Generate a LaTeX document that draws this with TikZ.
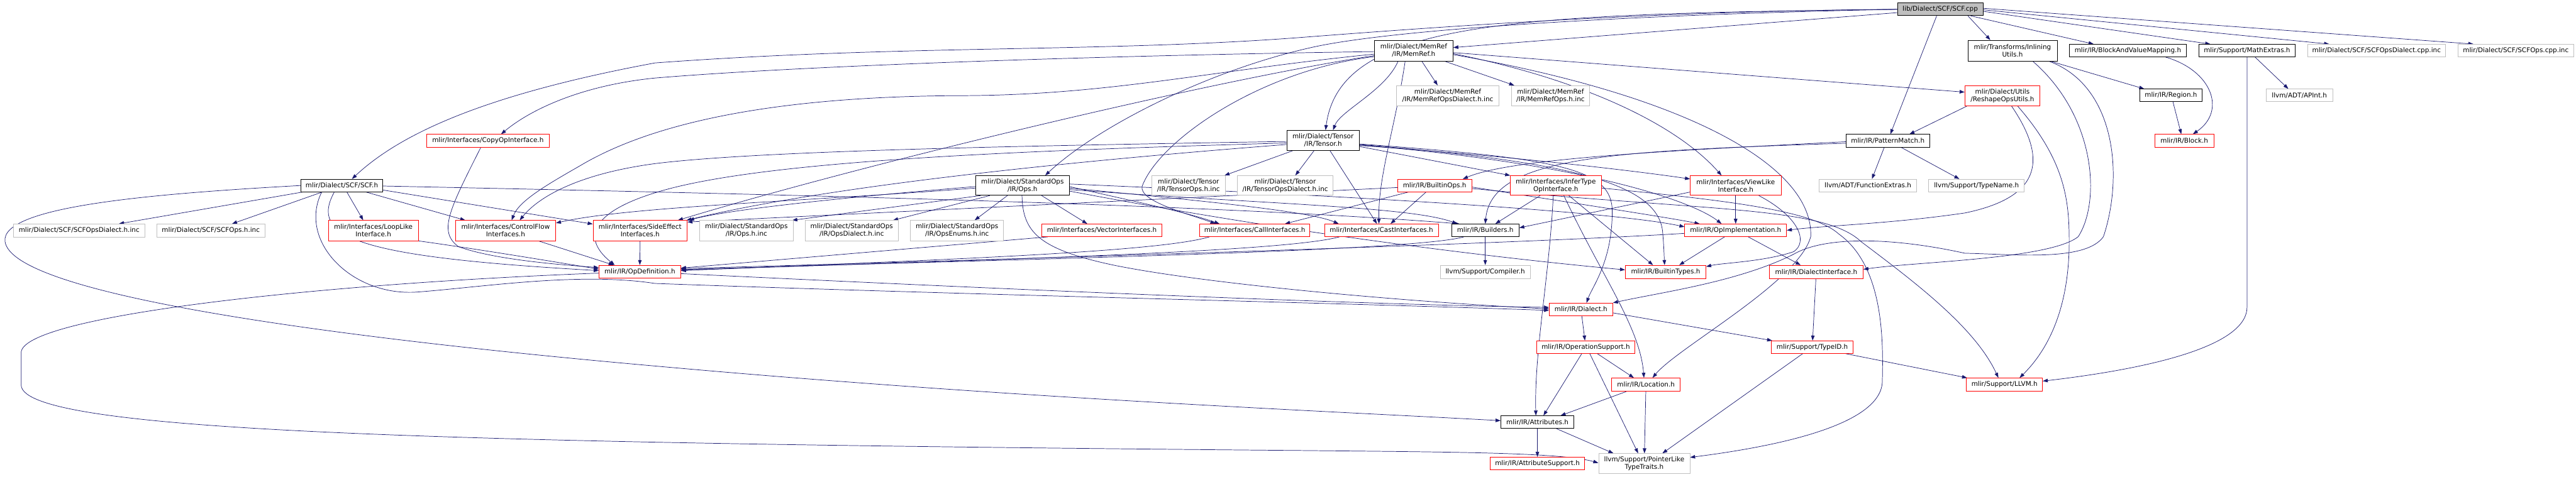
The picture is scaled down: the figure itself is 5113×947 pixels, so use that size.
\documentclass[tikz,border=0pt]{standalone}
\usepackage{fontspec}
\setmainfont{DejaVu Sans}
\usetikzlibrary{arrows.meta,calc}
\definecolor{edgec}{HTML}{191970}
\definecolor{grayb}{HTML}{BFBFBF}
\pgfdeclarelayer{edges}
\pgfsetlayers{edges,main}
\begin{document}
\begin{tikzpicture}[x=1pt,y=-1pt,
  nb/.style={draw, line width=1pt, fill=white, inner sep=0pt, align=center, font=\fontsize{13}{15}\selectfont},
  rootb/.style={nb, fill=grayb, draw=black},
  blk/.style={nb, draw=black},
  redb/.style={nb, draw=red},
  gryb/.style={nb, draw=grayb},
  dep/.style={draw=edgec, line width=0.9pt, -{Triangle[length=10pt,width=7pt]}},
]
\useasboundingbox (0,0) rectangle (5113,947);
% nodes
\node[rootb, minimum width=170pt, minimum height=25pt] (cpp) at (3851,18.5) {lib/Dialect/SCF/SCF.cpp};
\node[blk, minimum width=156pt, minimum height=41pt] (memref) at (2806,100.5) {mlir/Dialect/MemRef\\/IR/MemRef.h};
\node[blk, minimum width=177pt, minimum height=41pt] (inl) at (3994.5,100.5) {mlir/Transforms/Inlining\\Utils.h};
\node[blk, minimum width=233pt, minimum height=25pt] (bvm) at (4223.5,100.5) {mlir/IR/BlockAndValueMapping.h};
\node[blk, minimum width=190pt, minimum height=25pt] (mathx) at (4460,100.5) {mlir/Support/MathExtras.h};
\node[gryb, minimum width=274pt, minimum height=25pt] (dcppinc) at (4717,100.5) {mlir/Dialect/SCF/SCFOpsDialect.cpp.inc};
\node[gryb, minimum width=229pt, minimum height=25pt] (ocppinc) at (4993.5,100.5) {mlir/Dialect/SCF/SCFOps.cpp.inc};
\node[gryb, minimum width=203pt, minimum height=40pt] (mrdinc) at (2873.5,190) {mlir/Dialect/MemRef\\/IR/MemRefOpsDialect.h.inc};
\node[gryb, minimum width=155pt, minimum height=40pt] (mrinc) at (3077.5,190) {mlir/Dialect/MemRef\\/IR/MemRefOps.h.inc};
\node[redb, minimum width=149pt, minimum height=40pt] (reshape) at (3974.5,190) {mlir/Dialect/Utils\\/ReshapeOpsUtils.h};
\node[blk, minimum width=124pt, minimum height=25pt] (region) at (4309,189.5) {mlir/IR/Region.h};
\node[gryb, minimum width=132pt, minimum height=25pt] (apint) at (4564,189.5) {llvm/ADT/APInt.h};
\node[redb, minimum width=243pt, minimum height=25pt] (copy) at (968.5,279.5) {mlir/Interfaces/CopyOpInterface.h};
\node[blk, minimum width=144pt, minimum height=40pt] (tensor) at (2626,279) {mlir/Dialect/Tensor\\/IR/Tensor.h};
\node[blk, minimum width=166pt, minimum height=25pt] (pattern) at (3747,279.5) {mlir/IR/PatternMatch.h};
\node[redb, minimum width=117pt, minimum height=25pt] (block) at (4335.5,279.5) {mlir/IR/Block.h};
\node[blk, minimum width=163pt, minimum height=25pt] (scfh) at (678.5,368.5) {mlir/Dialect/SCF/SCF.h};
\node[blk, minimum width=185pt, minimum height=39pt] (stdops) at (2029.5,368.5) {mlir/Dialect/StandardOps\\/IR/Ops.h};
\node[gryb, minimum width=146pt, minimum height=39pt] (tinc) at (2359,368.5) {mlir/Dialect/Tensor\\/IR/TensorOps.h.inc};
\node[gryb, minimum width=190pt, minimum height=39pt] (tdinc) at (2551,368.5) {mlir/Dialect/Tensor\\/IR/TensorOpsDialect.h.inc};
\node[redb, minimum width=147pt, minimum height=25pt] (bops) at (2847.5,368.5) {mlir/IR/BuiltinOps.h};
\node[redb, minimum width=180pt, minimum height=39pt] (infer) at (3088,368.5) {mlir/Interfaces/InferType\\OpInterface.h};
\node[redb, minimum width=180pt, minimum height=39pt] (view) at (3445,368.5) {mlir/Interfaces/ViewLike\\Interface.h};
\node[gryb, minimum width=193pt, minimum height=25pt] (fextras) at (3707.5,368.5) {llvm/ADT/FunctionExtras.h};
\node[gryb, minimum width=190pt, minimum height=25pt] (tname) at (3923,368.5) {llvm/Support/TypeName.h};
\node[gryb, minimum width=260pt, minimum height=26pt] (scfdinc) at (157,458) {mlir/Dialect/SCF/SCFOpsDialect.h.inc};
\node[gryb, minimum width=215pt, minimum height=26pt] (scfinc) at (418.5,458) {mlir/Dialect/SCF/SCFOps.h.inc};
\node[redb, minimum width=178pt, minimum height=40pt] (loop) at (741,458) {mlir/Interfaces/LoopLike\\Interface.h};
\node[redb, minimum width=199pt, minimum height=40pt] (cf) at (1003.5,458) {mlir/Interfaces/ControlFlow\\Interfaces.h};
\node[redb, minimum width=187pt, minimum height=40pt] (se) at (1270.5,458) {mlir/Interfaces/SideEffect\\Interfaces.h};
\node[gryb, minimum width=185pt, minimum height=40pt] (sinc) at (1481.5,458) {mlir/Dialect/StandardOps\\/IR/Ops.h.inc};
\node[gryb, minimum width=185pt, minimum height=40pt] (sdinc) at (1690.5,458) {mlir/Dialect/StandardOps\\/IR/OpsDialect.h.inc};
\node[gryb, minimum width=185pt, minimum height=40pt] (seinc) at (1899.5,458) {mlir/Dialect/StandardOps\\/IR/OpsEnums.h.inc};
\node[redb, minimum width=238pt, minimum height=25pt] (vec) at (2187,457.5) {mlir/Interfaces/VectorInterfaces.h};
\node[redb, minimum width=219pt, minimum height=25pt] (call) at (2490.5,457.5) {mlir/Interfaces/CallInterfaces.h};
\node[redb, minimum width=226pt, minimum height=25pt] (cast) at (2742,457.5) {mlir/Interfaces/CastInterfaces.h};
\node[blk, minimum width=134pt, minimum height=25pt] (builders) at (2948,457.5) {mlir/IR/Builders.h};
\node[redb, minimum width=202pt, minimum height=25pt] (opimpl) at (3445,457.5) {mlir/IR/OpImplementation.h};
\node[redb, minimum width=162pt, minimum height=25pt] (opdef) at (1270,539.5) {mlir/IR/OpDefinition.h};
\node[gryb, minimum width=178pt, minimum height=26pt] (compiler) at (2948,540) {llvm/Support/Compiler.h};
\node[redb, minimum width=160pt, minimum height=26pt] (btypes) at (3306,540) {mlir/IR/BuiltinTypes.h};
\node[redb, minimum width=186pt, minimum height=26pt] (dint) at (3605,540) {mlir/IR/DialectInterface.h};
\node[redb, minimum width=126pt, minimum height=25pt] (dialect) at (3138,614.5) {mlir/IR/Dialect.h};
\node[redb, minimum width=195pt, minimum height=25pt] (opsup) at (3147.5,689.5) {mlir/IR/OperationSupport.h};
\node[redb, minimum width=162pt, minimum height=25pt] (typeid) at (3597,689.5) {mlir/Support/TypeID.h};
\node[redb, minimum width=136pt, minimum height=26pt] (loc) at (3267,764) {mlir/IR/Location.h};
\node[redb, minimum width=151pt, minimum height=26pt] (llvmh) at (3978.5,764) {mlir/Support/LLVM.h};
\node[blk, minimum width=145pt, minimum height=25pt] (attrs) at (3051.5,838.5) {mlir/IR/Attributes.h};
\node[redb, minimum width=187pt, minimum height=25pt] (attrsup) at (3051.5,920.5) {mlir/IR/AttributeSupport.h};
\node[gryb, minimum width=181pt, minimum height=39pt] (ptr) at (3263.5,920.5) {llvm/Support/PointerLike\\TypeTraits.h};

\begin{pgfonlayer}{edges}
% edges from SCF.cpp
\draw[dep] (cpp) -- (memref);
\draw[dep] (cpp.west) .. controls (3000,28) and (2660,40) .. ($(tensor.north)+(5,0)$);
\draw[dep] (cpp.west) .. controls (3300,22) and (2900,50) .. (2600,73) .. controls (2200,105) and (1800,88) .. (1300,125) .. controls (950,190) and (790,270) .. ($(scfh.north)+(20,0)$);
\draw[dep] (cpp.west) .. controls (3200,30) and (2750,60) .. (2600,95) .. controls (2400,140) and (2180,250) .. ($(stdops.north)+(45,0)$);
\draw[dep] ($(cpp.south)+(-7,0)$) -- ($(pattern.north)+(5,0)$);
\draw[dep] ($(cpp.south)+(55,0)$) -- ($(inl.north)+(-44,0)$);
\draw[dep] ($(cpp.south east)+(-25,0)$) -- ($(bvm.north)+(-68,0)$);
\draw[dep] ($(cpp.east)+(0,4)$) -- ($(mathx.north)+(-73,0)$);
\draw[dep] ($(cpp.east)+(0,1)$) -- ($(dcppinc.north)+(-94,0)$);
\draw[dep] ($(cpp.east)+(0,-2)$) -- ($(ocppinc.north)+(-84,0)$);

% MemRef.h
\draw[dep] ($(memref.south)+(-31,0)$) .. controls (2750,180) and (2660,220) .. ($(tensor.north)+(20,0)$);
\draw[dep] ($(memref.south)+(16,0)$) -- ($(mrdinc.north)+(-20,0)$);
\draw[dep] ($(memref.south)+(61,0)$) -- ($(mrinc.north)+(-72,0)$);
\draw[dep] ($(memref.east)+(0,4)$) -- ($(reshape.west)+(0,-7)$);
\draw[dep] ($(memref.east)+(0,6)$) .. controls (3150,160) and (3330,250) .. ($(view.north)+(-28,0)$);
\draw[dep] ($(memref.east)+(0,8)$) .. controls (3350,190) and (3600,330) .. (3594,470) .. controls (3570,560) and (3330,690) .. ($(loc.north)+(13,0)$);
\draw[dep] ($(memref.south)+(-17,0)$) .. controls (2770,250) and (2735,350) .. ($(cast.north)+(-5,0)$);
\draw[dep] ($(memref.west)+(0,2)$) .. controls (2200,110) and (1600,130) .. (1300,155) .. controls (1150,170) and (1050,220) .. ($(copy.north)+(26,0)$);
\draw[dep] ($(memref.west)+(0,7)$) .. controls (2400,140) and (2200,190) .. (1900,190) .. controls (1550,192) and (1300,240) .. (1150,330) .. controls (1080,370) and (1030,400) .. ($(cf.north)+(12,0)$);
\draw[dep] ($(memref.west)+(0,10)$) .. controls (2400,160) and (1700,330) .. ($(se.north east)+(-19,0)$);
\draw[dep] ($(memref.west)+(0,12)$) .. controls (2500,140) and (2300,280) .. (2267,370) .. controls (2260,400) and (2360,425) .. ($(call.north)+(-78,0)$);

% InliningUtils.h
\draw[dep] ($(inl.south)+(75,0)$) -- ($(region.north)+(-53,0)$);
\draw[dep] ($(inl.south)+(40,0)$) .. controls (4160,230) and (4170,400) .. (4125,470) .. controls (4070,515) and (3800,520) .. ($(dint.east)+(0,-5)$);
\draw[dep] ($(inl.south)+(72,0)$) .. controls (4200,170) and (4215,350) .. (4175,470) .. controls (4140,520) and (4000,505) .. (3900,503) .. controls (3750,470) and (3620,470) .. (3560,505) .. controls (3450,560) and (3300,580) .. (dialect.north east);

% ReshapeOpsUtils.h
\draw[dep] ($(reshape.south west)+(5,0)$) -- ($(pattern.north)+(43,0)$);
\draw[dep] ($(reshape.south)+(18,0)$) .. controls (4060,310) and (4060,390) .. (3900,423) .. controls (3750,445) and (3620,448) .. (opimpl.east);
\draw[dep] ($(reshape.south)+(30,0)$) .. controls (4100,320) and (4107,400) .. (4107,480) .. controls (4107,620) and (4060,700) .. ($(llvmh.north)+(30,0)$);

% BlockAndValueMapping, Region, MathExtras
\draw[dep] ($(bvm.south)+(75,0)$) .. controls (4390,140) and (4420,220) .. ($(block.north)+(17,0)$);
\draw[dep] ($(region.south)+(4,0)$) -- ($(block.north)+(-6,0)$);
\draw[dep] ($(mathx.south)+(16,0)$) -- ($(apint.north)+(-22,0)$);
\draw[dep] (mathx.south) -- (4460,610) .. controls (4460,700) and (4200,740) .. ($(llvmh.east)+(0,-7)$);

% PatternMatch.h
\draw[dep] ($(pattern.south)+(-7,0)$) -- ($(fextras.north)+(8,0)$);
\draw[dep] ($(pattern.south)+(26,0)$) -- ($(tname.north)+(-34,0)$);
\draw[dep] ($(pattern.west)+(0,2)$) .. controls (3300,300) and (3000,315) .. ($(bops.north east)+(-18,0)$);
\draw[dep] ($(pattern.west)+(0,5)$) .. controls (3200,300) and (2960,310) .. (builders.north);

% SCF.h
\draw[dep] ($(scfh.south west)+(4,0)$) -- ($(scfdinc.north)+(79,0)$);
\draw[dep] ($(scfh.south)+(-39,0)$) -- ($(scfinc.north)+(42,0)$);
\draw[dep] ($(scfh.south)+(10,0)$) -- ($(loop.north)+(-20,0)$);
\draw[dep] ($(scfh.south)+(48,0)$) -- ($(cf.north)+(-80,0)$);
\draw[dep] ($(scfh.east)+(0,9)$) -- ($(se.west)+(0,-13)$);
\draw[dep] ($(scfh.south)+(-15,0)$) .. controls (615,470) and (700,510) .. ($(opdef.west)+(0,-2)$);
\draw[dep] ($(scfh.south)+(-40,0)$) .. controls (590,480) and (700,590) .. (829,580) .. controls (960,570) and (1150,540) .. (1300,563) .. controls (1900,585) and (2600,600) .. ($(dialect.west)+(0,2)$);
\draw[dep] (scfh.west) .. controls (300,385) and (0,410) .. (10,480) .. controls (25,580) and (600,665) .. (1300,727) .. controls (2000,790) and (2600,815) .. ($(attrs.west)+(0,-3)$);
\draw[dep] ($(scfh.east)+(0,1)$) .. controls (1500,385) and (2400,405) .. ($(builders.north west)+(16,0)$);

% StandardOps/IR/Ops.h
\draw[dep] ($(stdops.west)+(0,2)$) .. controls (1700,390) and (1450,415) .. ($(se.north east)+(3,0)$);
\draw[dep] ($(stdops.west)+(0,5)$) .. controls (1600,400) and (1250,410) .. ($(cf.east)+(0,-15)$);
\draw[dep] ($(stdops.south west)+(10,0)$) -- ($(sinc.north east)+(-2,0)$);
\draw[dep] ($(stdops.south)+(-65,0)$) -- ($(sdinc.north)+(82,0)$);
\draw[dep] ($(stdops.south)+(-30,0)$) -- ($(seinc.north)+(35,0)$);
\draw[dep] ($(stdops.south)+(-1,0)$) .. controls (2030,460) and (2060,495) .. (2212,527) .. controls (2400,565) and (2800,600) .. ($(dialect.west)+(0,-1)$);
\draw[dep] ($(stdops.south)+(38,0)$) -- ($(vec.north)+(-29,0)$);
\draw[dep] ($(stdops.east)+(0,2)$) .. controls (2250,400) and (2350,420) .. ($(call.north)+(-70,0)$);
\draw[dep] ($(stdops.east)+(0,5)$) .. controls (2400,400) and (2600,420) .. ($(cast.north)+(-85,0)$);
\draw[dep] ($(stdops.east)+(0,8)$) .. controls (2500,405) and (2800,410) .. ($(builders.north west)+(12,0)$);
\draw[dep] ($(stdops.east)+(0,-3)$) .. controls (2700,390) and (3200,420) .. ($(opimpl.west)+(0,-7)$);
\draw[dep] ($(stdops.east)+(0,11)$) .. controls (2600,470) and (3000,515) .. ($(btypes.west)+(0,-4)$);

% Tensor.h
\draw[dep] ($(tensor.south west)+(12,0)$) -- ($(tinc.north east)+(-2,0)$);
\draw[dep] ($(tensor.south)+(-18,0)$) -- ($(tdinc.north)+(20,0)$);
\draw[dep] ($(tensor.south)+(14,0)$) -- ($(cast.north)+(-9,0)$);
\draw[dep] ($(tensor.east)+(0,12)$) -- (infer.north west);
\draw[dep] ($(tensor.west)+(0,2)$) .. controls (2000,290) and (1500,300) .. (1300,325) .. controls (1150,345) and (1070,390) .. ($(cf.north)+(28,0)$);
\draw[dep] ($(tensor.west)+(0,5)$) .. controls (2000,300) and (1500,320) .. (1300,383) .. controls (1180,420) and (1150,470) .. ($(opdef.north)+(-50,0)$);
\draw[dep] ($(tensor.west)+(0,8)$) .. controls (2000,330) and (1600,380) .. ($(se.north east)+(-2,0)$);
\draw[dep] ($(tensor.east)+(0,7)$) .. controls (3100,315) and (3200,335) .. (3200,420) .. controls (3200,520) and (3160,570) .. ($(dialect.north)+(11,0)$);
\draw[dep] ($(tensor.east)+(0,8)$) .. controls (3100,320) and (3290,360) .. (3300,460) .. controls (3303,495) and (3303,510) .. ($(btypes.north)+(-2,0)$);
\draw[dep] ($(tensor.east)+(0,9)$) .. controls (3150,325) and (3360,400) .. ($(opimpl.north)+(-28,0)$);
\draw[dep] ($(tensor.east)+(0,10)$) .. controls (3000,310) and (3250,340) .. ($(view.west)+(0,-13)$);

% BuiltinOps.h
\draw[dep] ($(bops.west)+(0,4)$) -- ($(se.east)+(0,-17)$);
\draw[dep] ($(bops.south west)+(22,0)$) -- ($(call.north)+(60,0)$);
\draw[dep] ($(bops.south)+(-17,0)$) -- ($(cast.north)+(18,0)$);
\draw[dep] ($(bops.east)+(0,3)$) .. controls (3100,400) and (3300,430) .. ($(opimpl.north west)+(30,0)$);
\draw[dep] ($(bops.east)+(0,6)$) .. controls (3400,420) and (3620,410) .. (3694,480) .. controls (3800,560) and (3920,650) .. ($(llvmh.north)+(-12,0)$);

% InferTypeOpInterface.h
\draw[dep] ($(infer.south)+(-31,0)$) -- ($(builders.north)+(20,0)$);
\draw[dep] ($(infer.south)+(-5,0)$) .. controls (3075,550) and (3045,700) .. ($(attrs.north)+(-3,0)$);
\draw[dep] ($(infer.south)+(16,0)$) .. controls (3180,550) and (3255,650) .. ($(loc.north)+(-4,0)$);
\draw[dep] ($(infer.south)+(26,0)$) -- ($(btypes.north)+(-25,0)$);
\draw[dep] ($(infer.east)+(0,5)$) .. controls (3450,400) and (3600,420) .. (3650,465) .. controls (3740,530) and (3738,680) .. (3736,760) .. controls (3730,850) and (3500,890) .. ($(ptr.east)+(0,-12)$);

% ViewLikeInterface.h
\draw[dep] ($(view.west)+(0,13)$) -- ($(builders.east)+(0,-5)$);
\draw[dep] (view.south) -- (opimpl.north);
\draw[dep] ($(view.south)+(46,0)$) .. controls (3570,430) and (3590,480) .. (3560,500) .. controls (3500,520) and (3420,522) .. ($(btypes.north east)+(0,3)$);

% OpImplementation.h
\draw[dep] ($(opimpl.south)+(-22,0)$) -- ($(btypes.north)+(27,0)$);
\draw[dep] ($(opimpl.south)+(25,0)$) -- ($(dint.north)+(-31,0)$);
\draw[dep] ($(opimpl.west)+(0,6)$) .. controls (3000,485) and (2000,515) .. ($(opdef.east)+(0,-6)$);

% Builders, interfaces -> OpDefinition
\draw[dep] (builders) -- (compiler);
\draw[dep] ($(builders.south west)+(25,0)$) .. controls (2800,500) and (2000,515) .. ($(opdef.east)+(0,-4)$);
\draw[dep] ($(cast.south west)+(30,0)$) .. controls (2550,500) and (2000,515) .. ($(opdef.east)+(0,-3)$);
\draw[dep] ($(call.south west)+(20,0)$) .. controls (2300,500) and (1900,515) .. ($(opdef.east)+(0,-2)$);
\draw[dep] ($(vec.south west)+(12,0)$) -- ($(opdef.east)+(0,-7)$);
\draw[dep] (se.south) -- (opdef.north);
\draw[dep] ($(cf.south)+(65,0)$) -- ($(opdef.north)+(-52,0)$);
\draw[dep] (loop.south east) .. controls (950,495) and (1100,520) .. ($(opdef.west)+(0,-5)$);
\draw[dep] ($(copy.south)+(-14,0)$) .. controls (890,420) and (870,460) .. (910,490) .. controls (980,515) and (1100,525) .. ($(opdef.west)+(0,-8)$);

% OpDefinition.h
\draw[dep] ($(opdef.east)+(0,4)$) .. controls (2000,575) and (2700,605) .. ($(dialect.west)+(0,-4)$);
\draw[dep] ($(opdef.west)+(0,3)$) .. controls (600,565) and (45,630) .. (42,700) -- (42,765) .. controls (45,860) and (900,880) .. (2600,895) .. controls (2900,898) and (3100,899) .. ($(ptr.west)+(0,-1)$);

% lower IR
\draw[dep] (dialect) -- (opsup);
\draw[dep] ($(dialect.east)+(0,7)$) -- ($(typeid.north west)+(2,0)$);
\draw[dep] (dint) -- (typeid);
\draw[dep] ($(opsup.south)+(-8,0)$) -- ($(attrs.north)+(12,0)$);
\draw[dep] ($(opsup.south)+(23,0)$) -- ($(loc.north)+(-24,0)$);
\draw[dep] ($(opsup.south)+(8,0)$) -- ($(ptr.north)+(-12,0)$);
\draw[dep] ($(typeid.south)+(-19,0)$) -- ($(ptr.north)+(36,0)$);
\draw[dep] ($(typeid.south east)+(-15,0)$) -- ($(llvmh.north west)+(2,0)$);
\draw[dep] ($(loc.south west)+(30,0)$) -- ($(attrs.north east)+(-27,0)$);
\draw[dep] (loc) -- (ptr);
\draw[dep] (attrs) -- (attrsup);
\draw[dep] ($(attrs.south east)+(-35,0)$) -- ($(ptr.north west)+(30,0)$);
\end{pgfonlayer}
\end{tikzpicture}
\end{document}
